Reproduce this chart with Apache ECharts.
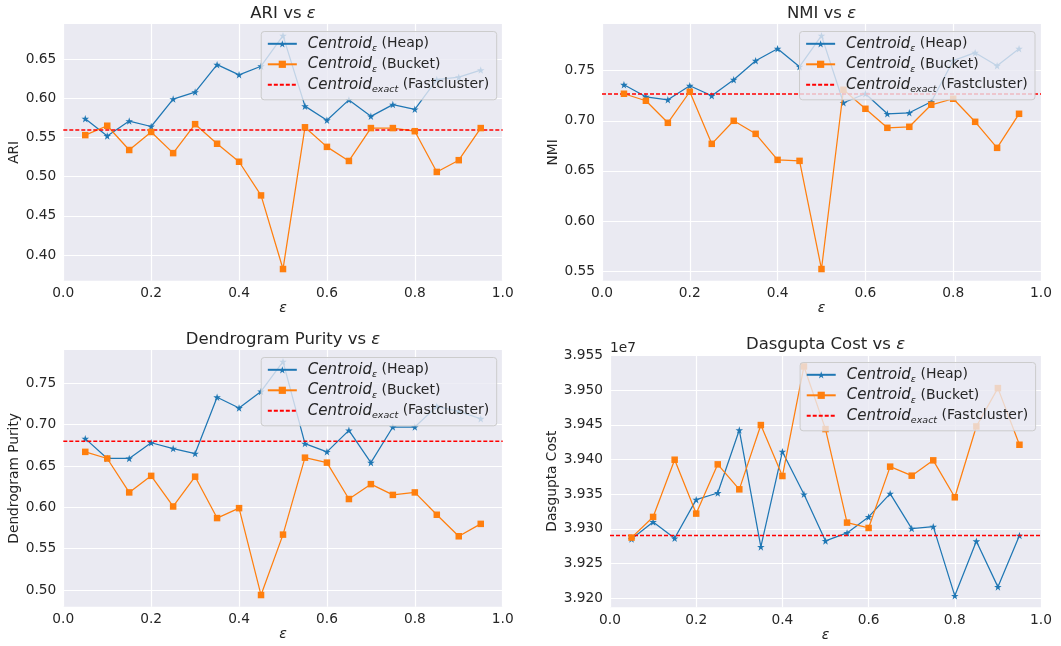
<!DOCTYPE html>
<html><head><meta charset="utf-8">
<script src="https://cdn.jsdelivr.net/npm/echarts@6/dist/echarts.min.js"></script>
<style>html,body{margin:0;padding:0;background:#fff}#c{width:1061px;height:646px}</style>
</head><body><div id="c"></div>
<script>
// ---------- data ----------
const eps = [0.05,0.10,0.15,0.20,0.25,0.30,0.35,0.40,0.45,0.50,0.55,0.60,0.65,0.70,0.75,0.80,0.85,0.90,0.95];

const ariHeap   = [0.574,0.552,0.571,0.564,0.599,0.608,0.643,0.630,0.641,0.680,0.590,0.572,0.598,0.577,0.592,0.586,0.624,0.627,0.636];
const ariBucket = [0.553,0.565,0.534,0.557,0.530,0.567,0.542,0.519,0.476,0.382,0.563,0.538,0.520,0.562,0.562,0.558,0.506,0.521,0.562];
const ariExact  = 0.5596;

const nmiHeap   = [0.736,0.724,0.721,0.735,0.725,0.741,0.760,0.772,0.754,0.785,0.718,0.727,0.707,0.708,0.719,0.760,0.768,0.755,0.772];
const nmiBucket = [0.727,0.720,0.698,0.729,0.677,0.700,0.687,0.661,0.660,0.552,0.731,0.712,0.693,0.694,0.716,0.722,0.699,0.673,0.707];
const nmiExact  = 0.7268;

const dpHeap    = [0.683,0.659,0.659,0.678,0.671,0.665,0.733,0.720,0.740,0.776,0.677,0.667,0.693,0.654,0.697,0.697,0.722,0.716,0.707];
const dpBucket  = [0.667,0.659,0.618,0.638,0.601,0.637,0.587,0.599,0.494,0.567,0.660,0.654,0.610,0.628,0.615,0.618,0.591,0.565,0.580];
const dpExact   = 0.6798;

// Dasgupta cost, in units of 1e7
const dgHeap    = [3.92855,3.93100,3.92864,3.93421,3.93517,3.94425,3.92740,3.94113,3.93498,3.92826,3.92941,3.93172,3.93508,3.93004,3.93032,3.92034,3.92821,3.92163,3.92903];
const dgBucket  = [3.92874,3.93172,3.93997,3.93220,3.93930,3.93570,3.94497,3.93762,3.95342,3.94439,3.93090,3.93013,3.93897,3.93767,3.93988,3.93455,3.94477,3.95030,3.94213];
const dgExact   = 3.92903;

const xTicks   = [0.0,0.2,0.4,0.6,0.8,1.0];
const ariTicks = [0.40,0.45,0.50,0.55,0.60,0.65];
const nmiTicks = [0.55,0.60,0.65,0.70,0.75];
const dpTicks  = [0.50,0.55,0.60,0.65,0.70,0.75];
const dgTicks  = [3.920,3.925,3.930,3.935,3.940,3.945,3.950,3.955];

const titles = ['ARI vs ', 'NMI vs ', 'Dendrogram Purity vs ', 'Dasgupta Cost vs '];
const yNames = ['ARI', 'NMI', 'Dendrogram Purity', 'Dasgupta Cost'];
const nameHeap = 'Centroid_eps (Heap)';
const nameBucket = 'Centroid_eps (Bucket)';
const nameExact = 'Centroid_exact (Fastcluster)';

// ---------- styling / layout ----------
const FONT = 'DejaVu Sans';
const TXT = '#262626';
const BLUE = '#1f77b4', ORANGE = '#ff7f0e', RED = '#ff0000';
const STAR = 'path://M50,0 L61.8,35.3 L99,35.3 L69,57.3 L80.3,92.7 L50,70.9 L19.7,92.7 L31,57.3 L1,35.3 L38.2,35.3 Z';

const panels = [
  {heap: ariHeap, bucket: ariBucket, exact: ariExact, ticks: ariTicks, dec: 2,
   grid: {left: 63.3, top: 24, width: 439.4, height: 256.7}, titleTop: 5, nameGapY: 41, nameGapX: 18, legendRight: 564.3, legendTop: 31.5},
  {heap: nmiHeap, bucket: nmiBucket, exact: nmiExact, ticks: nmiTicks, dec: 2,
   grid: {left: 602, top: 24, width: 439, height: 256.7}, titleTop: 5, nameGapY: 42, nameGapX: 18, legendRight: 26, legendTop: 31.5},
  {heap: dpHeap, bucket: dpBucket, exact: dpExact, ticks: dpTicks, dec: 2,
   grid: {left: 63.3, top: 350, width: 439.4, height: 256.7}, titleTop: 331, nameGapY: 42, nameGapX: 21, legendRight: 564.3, legendTop: 357.5},
  {heap: dgHeap, bucket: dgBucket, exact: dgExact, ticks: dgTicks, dec: 3,
   grid: {left: 610, top: 355, width: 431, height: 252.3}, titleTop: 336, nameGapY: 50, nameGapX: 21, legendRight: 25.4, legendTop: 362.5}
];

const grids = [], xAxes = [], yAxes = [], series = [], titleArr = [], legends = [];

panels.forEach((p, i) => {
  const all = p.heap.concat(p.bucket, [p.exact]);
  const lo = Math.min(...all), hi = Math.max(...all), pad = (hi - lo) * 0.05;
  grids.push(Object.assign({show: true, backgroundColor: '#eaeaf2', borderWidth: 0, containLabel: false}, p.grid));
  xAxes.push({
    type: 'value', gridIndex: i, min: 0, max: 1, interval: 0.2,
    axisLine: {show: false}, axisTick: {show: false},
    axisLabel: {color: TXT, fontFamily: FONT, fontSize: 13.75, margin: 6, formatter: v => v.toFixed(1)},
    splitLine: {show: true, lineStyle: {color: '#ffffff', width: 1.2}},
    name: 'ε', nameLocation: 'middle', nameGap: p.nameGapX,
    nameTextStyle: {color: TXT, fontFamily: FONT, fontSize: 14, fontStyle: 'italic'}
  });
  yAxes.push({
    type: 'value', gridIndex: i, min: lo - pad, max: hi + pad,
    axisLine: {show: false},
    axisTick: {show: false, customValues: p.ticks},
    axisLabel: {customValues: p.ticks, color: TXT, fontFamily: FONT, fontSize: 13.75, margin: 7,
                formatter: v => v.toFixed(p.dec)},
    splitLine: {show: true, lineStyle: {color: '#ffffff', width: 1.2}},
    name: yNames[i], nameLocation: 'middle', nameGap: p.nameGapY,
    nameTextStyle: {color: TXT, fontFamily: FONT, fontSize: 13.75}
  });
  const cx = p.grid.left + p.grid.width / 2;
  titleArr.push({
    text: titles[i] + '{e|ε}', left: cx, top: p.titleTop, textAlign: 'center', padding: 0,
    textStyle: {color: TXT, fontFamily: FONT, fontSize: 16.5, fontWeight: 'normal',
      rich: {e: {fontStyle: 'italic', color: TXT, fontFamily: FONT, fontSize: 16.5}}}
  });
  series.push({
    name: nameHeap, type: 'line', xAxisIndex: i, yAxisIndex: i,
    data: eps.map((e, k) => [e, p.heap[k]]),
    symbol: STAR, symbolSize: 7.5, showSymbol: true,
    lineStyle: {color: BLUE, width: 1.25}, itemStyle: {color: BLUE, borderWidth: 0},
    emphasis: {disabled: true}, animation: false, z: 2
  });
  series.push({
    name: nameBucket, type: 'line', xAxisIndex: i, yAxisIndex: i,
    data: eps.map((e, k) => [e, p.bucket[k]]),
    symbol: 'rect', symbolSize: 6.5, showSymbol: true,
    lineStyle: {color: ORANGE, width: 1.25}, itemStyle: {color: ORANGE, borderWidth: 0},
    emphasis: {disabled: true}, animation: false, z: 3
  });
  series.push({
    name: nameExact, type: 'line', xAxisIndex: i, yAxisIndex: i,
    data: [[0, p.exact], [1, p.exact]],
    symbol: 'none', showSymbol: false,
    lineStyle: {color: RED, width: 1.5, type: [4, 2]}, itemStyle: {color: RED},
    emphasis: {disabled: true}, animation: false, z: 3
  });
  legends.push({
    orient: 'vertical', right: p.legendRight, top: p.legendTop,
    itemWidth: 29, itemHeight: 9, itemGap: 0.5,
    padding: [2.3, 7.4, 5, 5.6],
    backgroundColor: 'rgba(234,234,242,0.8)', borderColor: '#cccccc', borderWidth: 1, borderRadius: 3,
    selectedMode: false,
    data: [nameHeap, nameBucket, {name: nameExact, itemStyle: {opacity: 0, color: 'rgba(0,0,0,0)', borderWidth: 0}}],
    formatter: function (n) {
      if (n === nameHeap) return '{i|Centroid}{s|ε}{n| (Heap)}';
      if (n === nameBucket) return '{i|Centroid}{s|ε}{n| (Bucket)}';
      return '{i|Centroid}{s|exact}{n| (Fastcluster)}';
    },
    textStyle: {color: TXT, fontFamily: FONT, fontSize: 13.75, lineHeight: 20, padding: [0, 0, 0, 6],
      rich: {
        i: {fontStyle: 'italic', fontSize: 15, lineHeight: 20, color: TXT, fontFamily: FONT},
        s: {fontStyle: 'italic', fontSize: 9.5, lineHeight: 12, verticalAlign: 'bottom', color: TXT, fontFamily: FONT},
        n: {fontSize: 14, lineHeight: 20, color: TXT, fontFamily: FONT}
      }}
  });
});

const chart = echarts.init(document.getElementById('c'), null, {renderer: 'canvas'});
chart.setOption({
  animation: false,
  backgroundColor: '#ffffff',
  title: titleArr,
  grid: grids, xAxis: xAxes, yAxis: yAxes,
  legend: legends,
  series: series,
  graphic: [{type: 'text', left: 610, top: 341,
    style: {text: '1e7', fill: TXT, font: '13.75px "DejaVu Sans"'}}]
});
</script></body></html>
